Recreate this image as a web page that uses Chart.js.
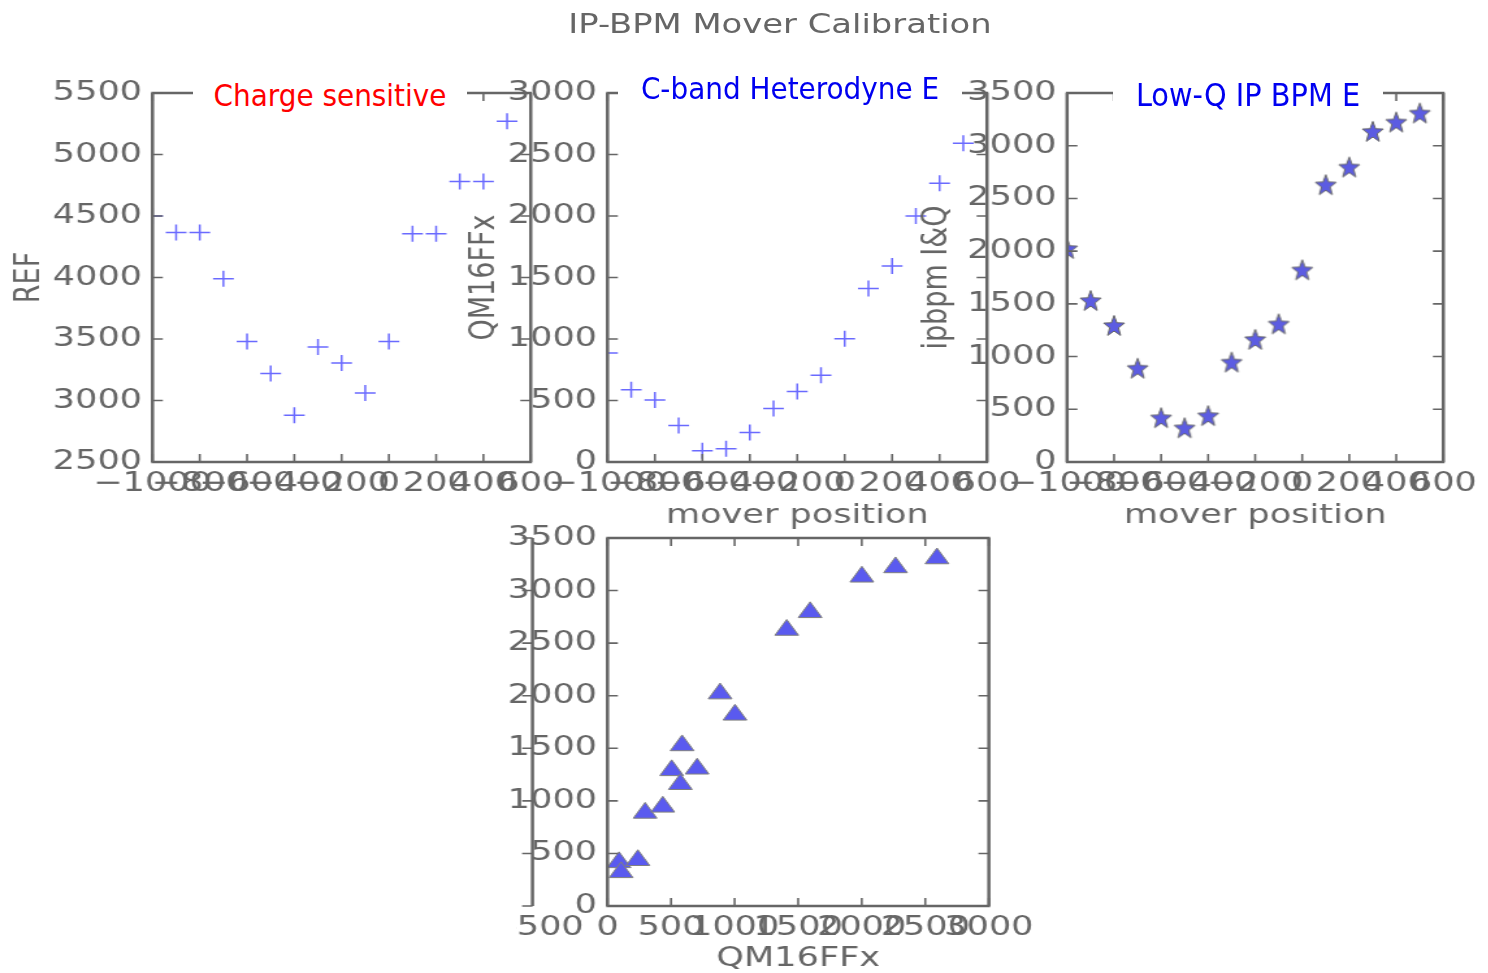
<!DOCTYPE html>
<html>
<head>
<meta charset="utf-8">
<title>IP-BPM Mover Calibration</title>
<script src="https://cdn.jsdelivr.net/npm/chart.js@4.4.1/dist/chart.umd.min.js"></script>
<style>
  html, body { margin: 0; padding: 0; background: #fff; }
  body { width: 1488px; height: 973px; position: relative; overflow: hidden; }
  /* the whole figure is drawn narrow and stretched, like the screenshot */
  #fig { position: absolute; left: 0; top: 0; width: 1145px; height: 973px;
         transform: scaleX(1.3); transform-origin: 0 0; }
  #fig canvas { position: absolute; }
  #suptitle { position: absolute; left: 0; top: 9px; width: 1200px; text-align: center;
              font: 26px/30px 'DejaVu Sans', sans-serif; color: #666; }
  #mask { position: absolute; left: 376px; top: 912px; width: 21px; height: 34px; background: #fff; }
  .ptitle { position: absolute; background: #fff; text-align: center; white-space: nowrap;
            font-family: 'DejaVu Sans Condensed', 'Liberation Sans', sans-serif; }
</style>
</head>
<body>
<div id="fig">
  <div id="suptitle">IP-BPM Mover Calibration</div>
  <canvas id="cRef"   width="440" height="452" style="left:0px;top:60px"></canvas>
  <canvas id="cBand"  width="461" height="472" style="left:330px;top:60px"></canvas>
  <canvas id="cLowQ"  width="442" height="472" style="left:700px;top:60px"></canvas>
  <canvas id="cGhost" width="61"  height="402" style="left:355px;top:510px"></canvas>
  <canvas id="cQM"    width="431" height="465" style="left:370px;top:510px"></canvas>
  <div id="mask"></div>
</div>
<div class="ptitle" style="left:193px;top:77px;width:274px;height:37px;font-size:31px;line-height:36px;color:#ff0000">Charge sensitive</div>
<div class="ptitle" style="left:618px;top:70px;width:344px;height:35px;font-size:31px;line-height:36px;color:#0000f0">C-band Heterodyne E</div>
<div class="ptitle" style="left:1113px;top:77px;width:270px;height:35px;font-size:32px;line-height:36px;color:#0000f0">Low-Q IP BPM E</div>

<script>
// mover scan, values
const moverPos    = [-1000, -900, -800, -700, -600, -500, -400, -300, -200, -100, 0, 100, 200, 300, 400, 500];
const refValues   = [4500, 4365, 4365, 3990, 3480, 3220, 2880, 3435, 3305, 3060, 3480, 4355, 4355, 4780, 4780, 5270];
const cbandValues = [886, 587, 505, 296, 91, 107, 239, 435, 573, 705, 1003, 1410, 1594, 2001, 2266, 2592];
const lowqValues  = [2020, 1527, 1290, 885, 415, 320, 435, 943, 1158, 1305, 1818, 2625, 2793, 3131, 3220, 3305];

// tick labels
const moverTicks = [-1000, -800, -600, -400, -200, 0, 200, 400, 600];
const refTicks   = [2500, 3000, 3500, 4000, 4500, 5000, 5500];
const cbandTicks = [0, 500, 1000, 1500, 2000, 2500, 3000];
const lowqTicks  = [0, 500, 1000, 1500, 2000, 2500, 3000, 3500];
const qmTicks    = [-500, 0, 500, 1000, 1500, 2000, 2500, 3000];

Chart.defaults.font.family = "'DejaVu Sans', sans-serif";
Chart.defaults.animation = false;
Chart.defaults.events = [];

const GREY = '#666';

// matplotlib style frame with ticks pointing inward
const boxTicks = {
  id: 'boxTicks',
  afterDraw(chart, args, o) {
    const { ctx, chartArea: a, scales } = chart;
    const len = 8;
    ctx.save();
    ctx.strokeStyle = GREY;
    ctx.lineWidth = 2.5;
    ctx.beginPath();
    (o.frame || []).forEach(side => {
      if (side === 'left')   { ctx.moveTo(a.left, a.top);     ctx.lineTo(a.left, a.bottom); }
      if (side === 'right')  { ctx.moveTo(a.right, a.top);    ctx.lineTo(a.right, a.bottom); }
      if (side === 'top')    { ctx.moveTo(a.left - 1, a.top); ctx.lineTo(a.right + 1, a.top); }
      if (side === 'bottom') { ctx.moveTo(a.left - 1, a.bottom); ctx.lineTo(a.right + 1, a.bottom); }
    });
    ctx.stroke();
    ctx.lineWidth = 1.6;
    ctx.beginPath();
    const xs = scales.x, ys = scales.y;
    (o.xTicks || []).length && xs.ticks.forEach(t => {
      const p = xs.getPixelForValue(t.value);
      if (p < a.left - 1 || p > a.right + 1) return;
      if (o.xTicks.includes('bottom')) { ctx.moveTo(p, a.bottom); ctx.lineTo(p, a.bottom - len); }
      if (o.xTicks.includes('top'))    { ctx.moveTo(p, a.top);    ctx.lineTo(p, a.top + len); }
    });
    (o.yTicks || []).length && ys.ticks.forEach(t => {
      const p = ys.getPixelForValue(t.value);
      if (p < a.top - 1 || p > a.bottom + 1) return;
      if (o.yTicks.includes('left'))  { ctx.moveTo(a.left, p);  ctx.lineTo(a.left + len, p); }
      if (o.yTicks.includes('right')) { ctx.moveTo(a.right, p); ctx.lineTo(a.right - len, p); }
    });
    ctx.stroke();
    ctx.restore();
  }
};

const fmt = v => (v < 0 ? '\u2212' + Math.abs(v) : String(v));
const fmtPlain = v => String(v);

function axis(min, max, tickVals, size, pad, title, titlePad, cb) {
  return {
    type: 'linear', min, max,
    afterBuildTicks: s => { s.ticks = tickVals.map(v => ({ value: v })); },
    afterFit: s => { if (s.isHorizontal()) s.height = size; else s.width = size; },
    grid: { display: false, drawTicks: false },
    border: { display: false },
    ticks: { autoSkip: false, maxRotation: 0, minRotation: 0, padding: pad,
             color: GREY, font: { size: 27 }, callback: cb || fmt },
    title: title
      ? { display: true, text: title, color: GREY, font: { size: 27 },
          padding: { top: titlePad, bottom: titlePad } }
      : { display: false }
  };
}

const fullBox = { frame: ['left', 'right', 'top', 'bottom'], xTicks: ['bottom', 'top'], yTicks: ['left', 'right'] };

function scatter(id, datasets, x, y, padding, box) {
  return new Chart(document.getElementById(id), {
    type: 'scatter',
    data: { datasets },
    options: {
      responsive: false,
      layout: { autoPadding: false, padding },
      plugins: { legend: { display: false }, tooltip: { enabled: false }, boxTicks: box || fullBox },
      scales: { x, y }
    },
    plugins: [boxTicks]
  });
}

const pairs = ys => moverPos.map((x, i) => ({ x, y: ys[i] }));

const crossSet = ys => ({
  data: pairs(ys), clip: 0,
  pointStyle: 'cross', pointRadius: 8, borderColor: '#6a6aff', borderWidth: 1.5
});

// filled star marker, narrowed so it looks round after the stretch
function starMarker() {
  const c = document.createElement('canvas');
  c.width = 24; c.height = 24;
  const g = c.getContext('2d');
  g.beginPath();
  for (let i = 0; i < 10; i++) {
    const r = i % 2 ? 4.6 : 11;
    const ang = -Math.PI / 2 + i * Math.PI / 5;
    const px = 12 + r * Math.cos(ang) / 1.3, py = 12.5 + r * Math.sin(ang);
    i ? g.lineTo(px, py) : g.moveTo(px, py);
  }
  g.closePath();
  g.fillStyle = '#5c5ce2';
  g.fill();
  g.strokeStyle = '#666';
  g.lineWidth = 1;
  g.stroke();
  return c;
}

scatter('cRef', [crossSet(refValues)],
  axis(-1000, 600, moverTicks, 50, 6),
  axis(2500, 5500, refTicks, 117.3, 8, 'REF', 6.8),
  { left: 0, right: 30, top: 33, bottom: 0 });

scatter('cBand', [crossSet(cbandValues)],
  axis(-1000, 600, moverTicks, 70, 6, 'mover position', 0),
  axis(0, 3000, cbandTicks, 137.3, 8, 'QM16FFx', 26.8),
  { left: 0, right: 30.2, top: 33, bottom: 0 });

scatter('cLowQ', [{
    data: pairs(lowqValues), clip: 0, pointStyle: starMarker()
  }],
  axis(-1000, 600, moverTicks, 70, 6, 'mover position', 0),
  axis(0, 3500, lowqTicks, 120.8, 8, 'ipbpm I&Q', 4.6),
  { left: 0, right: 29.7, top: 33, bottom: 0 });

// right spine of the hidden subplot under the first panel
scatter('cGhost', [],
  { type: 'linear', display: false, min: -1000, max: 600 },
  Object.assign(axis(0, 3500, lowqTicks, 0, 0), { ticks: { display: false } }),
  { left: 0, right: 6.4, top: 28, bottom: 6 },
  { frame: ['right'], yTicks: ['right'] });

scatter('cQM', [{
    data: cbandValues.map((x, i) => ({ x, y: lowqValues[i] })), clip: 0,
    pointStyle: 'triangle', pointRadius: 10.5,
    backgroundColor: '#5a5aef', borderColor: '#808080', borderWidth: 1
  }],
  axis(0, 3000, qmTicks, 69, 6, 'QM16FFx', 0, fmtPlain),
  axis(0, 3500, lowqTicks, 97.3, 8),
  { left: 0, right: 40.2, top: 28, bottom: 0 });
</script>
</body>
</html>
